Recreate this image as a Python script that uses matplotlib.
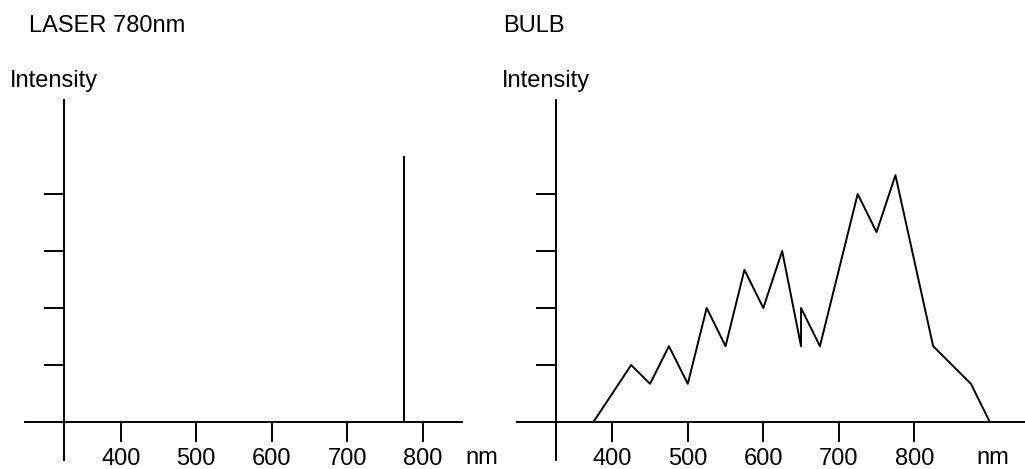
import matplotlib
matplotlib.use('Agg')
import matplotlib.pyplot as plt

plt.rcParams['font.family'] = ['Liberation Sans', 'DejaVu Sans']

# laser: a single line
laser_nm = [775, 775]
laser_val = [0, 4.67]

# bulb spectrum
bulb_nm = [375, 425, 450, 475, 500, 525, 550, 575, 600, 625, 650, 650,
           675, 725, 750, 775, 825, 875, 900]
bulb_val = [0, 1, 0.67, 1.33, 0.67, 2, 1.33, 2.67, 2, 3, 1.33, 2,
            1.33, 4, 3.33, 4.33, 1.33, 0.67, 0]

xticks = [400, 500, 600, 700, 800]
yticks = [1, 2, 3, 4]

W, H = 1025, 469
fig = plt.figure(figsize=(W / 100, H / 100), dpi=100)

FS = 17
LW = 1.4


def make_axes(px_left, px_right, px_tick400, ax_right_end):
    # axes spans pixel rows 100..460, y value = (422 - py) / 57
    scale = 0.755
    x0 = 400 + (px_left - px_tick400) / scale
    x1 = 400 + (px_right - px_tick400) / scale
    ax = fig.add_axes([px_left / W, (H - 460) / H,
                       (px_right - px_left) / W, 360 / H])
    ax.set_xlim(x0, x1)
    ax.set_ylim((422 - 460) / 57, (422 - 100) / 57)
    ax.patch.set_visible(False)
    for s in ['top', 'right']:
        ax.spines[s].set_visible(False)
    ax.spines['left'].set_position(('data', 325))
    ax.spines['bottom'].set_position(('data', 0))
    ax.spines['left'].set_linewidth(LW)
    ax.spines['bottom'].set_linewidth(LW)
    ax.spines['bottom'].set_bounds(x0, 400 + (ax_right_end - px_tick400) / scale)
    ax.set_xticks(xticks)
    ax.set_xticklabels([str(t) for t in xticks], fontsize=FS)
    ax.set_yticks(yticks)
    ax.set_yticklabels([])
    ax.tick_params(axis='both', direction='out', length=14.4, width=LW, pad=4)
    return ax


ax1 = make_axes(25, 470, 120.7, 462)
ax1.plot(laser_nm, laser_val, color='black', lw=LW, solid_capstyle='butt')

ax2 = make_axes(517, 1025, 612.3, 1025)
ax2.plot(bulb_nm, bulb_val, color='black', lw=LW, clip_on=False)


def ftext(px, py, s):
    fig.text(px / W, (H - py) / H, s, fontsize=FS, va='baseline', ha='left')


ftext(29, 31.5, 'LASER 780nm')
ftext(10, 87.5, 'Intensity')
ftext(465, 464, 'nm')
ftext(503, 31.5, 'BULB')
ftext(502, 87.5, 'Intensity')
ftext(976, 464, 'nm')

fig.savefig('out.png', dpi=100)
